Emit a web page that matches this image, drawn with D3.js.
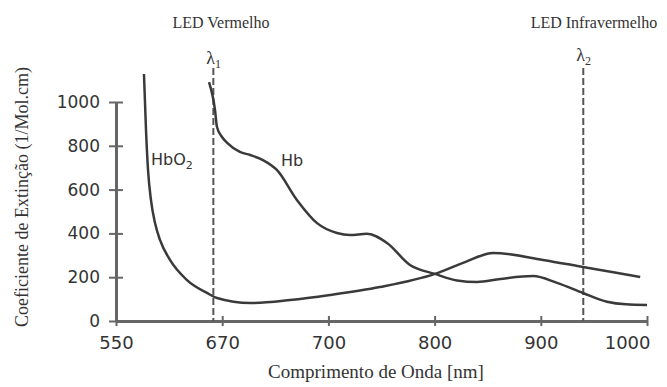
<!DOCTYPE html>
<html>
<head>
    <script src="https://d3js.org/d3.v7.min.js"></script>
    <style>
        body { margin: 0; background: #fff; }
    </style>
</head>
<body>
    <svg id="plot" width="667" height="387"></svg>
    <script>
        // tick labels (the x axis is drawn with evenly spaced ticks)
        const xTicks = [550, 670, 700, 800, 900, 1000];
        const yTicks = [0, 200, 400, 600, 800, 1000];

        // HbO2 curve
        const hbo2Wl  = [581.6, 583.9, 586.2, 589.5, 594.1, 599.7, 611, 630.2, 652.8, 664.1, 677.9, 689.2, 701.5, 748.4, 800.4, 828.6, 855, 902.1, 939.7, 993.6];
        const hbo2Val = [1128, 872, 689, 553, 447, 370, 279, 187, 128, 105, 82, 96, 119, 155, 215, 269, 311, 279, 247, 201];

        // Hb curve
        const hbWl  = [655.1, 661.9, 664.1, 669.8, 671.4, 675, 677.9, 681.5, 685.5, 691.1, 696.8, 708.1, 720.3, 736.3, 755.2, 776.8, 800.4, 821.1, 840, 862, 892.7, 915.3, 939.7, 962.3, 980, 1000];
        const hbVal = [1091, 963, 886, 840, 813, 772, 758, 735, 689, 553, 447, 402, 393, 398, 356, 256, 215, 185, 178, 192, 205, 174, 128, 88, 76, 73];

        // LED wavelengths
        const ledWl = [660, 940];
        const ledNames = ["LED Vermelho", "LED Infravermelho"];
        const ledSub = ["1", "2"];

        const svg = d3.select('svg#plot');
        const x0 = 116, x1 = 647;
        const step = (x1 - x0) / (xTicks.length - 1);

        const x = d3.scaleLinear()
            .domain(xTicks)
            .range(xTicks.map((d, i) => x0 + i * step));
        const y = d3.scaleLinear().domain([0, 1000]).range([321, 102]);

        const axisColor = "#666";

        // y axis
        const yAxis = svg.append("g")
            .attr("transform", `translate(${x0},0)`)
            .call(d3.axisLeft(y).tickValues(yTicks).tickFormat(d3.format("d"))
                .tickSize(7).tickSizeOuter(0).tickPadding(9));
        yAxis.select(".domain").attr("stroke", axisColor).attr("stroke-width", 3);
        yAxis.selectAll(".tick line").attr("x1", 7).attr("x2", -7)
            .attr("stroke", axisColor).attr("stroke-width", 2);
        yAxis.selectAll(".tick text")
            .style("font-family", "DejaVu Sans").style("font-size", "17px").attr("fill", "#333");

        // x axis
        const xAxis = svg.append("g")
            .attr("transform", `translate(0,${y(0)})`)
            .call(d3.axisBottom(x).tickValues(xTicks).tickFormat(d3.format("d"))
                .tickSize(4).tickSizeOuter(0).tickPadding(11));
        xAxis.select(".domain").attr("stroke", axisColor).attr("stroke-width", 3);
        xAxis.selectAll(".tick line").attr("y1", -5).attr("y2", 5)
            .attr("stroke", axisColor).attr("stroke-width", 2);
        xAxis.selectAll(".tick text")
            .style("font-family", "DejaVu Sans").style("font-size", "18px").attr("fill", "#333");
        xAxis.selectAll(".tick text").filter(d => d == 1000)
            .attr("text-anchor", "end").attr("dx", 3);

        // LED dashed lines
        ledWl.forEach((w, i) => {
            svg.append("line")
                .attr("x1", x(w)).attr("x2", x(w))
                .attr("y1", 68).attr("y2", y(0))
                .attr("stroke", "#555")
                .attr("stroke-width", 2)
                .attr("stroke-dasharray", "7,3");

            const lam = svg.append("text")
                .attr("x", x(w) - 7)
                .attr("y", i == 0 ? 64 : 61)
                .style("font-family", "Liberation Serif")
                .style("font-size", "18px")
                .attr("fill", "#333");
            lam.append("tspan").text("λ");
            lam.append("tspan").attr("dy", 4).style("font-size", "12px").text(ledSub[i]);

            svg.append("text")
                .attr("x", i == 0 ? 221 : 594)
                .attr("y", 28)
                .attr("text-anchor", "middle")
                .style("font-family", "Liberation Serif")
                .style("font-size", "16px")
                .attr("fill", "#333")
                .text(ledNames[i]);
        });

        // curves
        const line = d3.line()
            .x(d => x(d[0]))
            .y(d => y(d[1]))
            .curve(d3.curveMonotoneX);

        const hbo2 = hbo2Wl.map((w, i) => [w, hbo2Val[i]]);
        const hb = hbWl.map((w, i) => [w, hbVal[i]]);

        [hbo2, hb].forEach(data => {
            svg.append("path")
                .datum(data)
                .attr("d", line)
                .attr("fill", "none")
                .attr("stroke", "#3a3a3a")
                .attr("stroke-width", 2.5);
        });

        // curve labels
        const lbl = svg.append("text")
            .attr("x", 151).attr("y", 165)
            .style("font-family", "DejaVu Sans").style("font-size", "16px")
            .attr("fill", "#333");
        lbl.append("tspan").text("HbO");
        lbl.append("tspan").attr("dy", 4).style("font-size", "11px").text("2");

        svg.append("text")
            .attr("x", 281).attr("y", 166)
            .style("font-family", "DejaVu Sans").style("font-size", "16px")
            .attr("fill", "#333")
            .text("Hb");

        // axis titles
        svg.append("text")
            .attr("x", 376).attr("y", 378)
            .attr("text-anchor", "middle")
            .style("font-family", "Liberation Serif").style("font-size", "19px")
            .attr("fill", "#333")
            .text("Comprimento de Onda [nm]");

        svg.append("text")
            .attr("transform", "translate(28,197) rotate(-90)")
            .attr("text-anchor", "middle")
            .style("font-family", "Liberation Serif").style("font-size", "18px")
            .attr("fill", "#333")
            .text("Coeficiente de Extinção (1/Mol.cm)");
    </script>
</body>
</html>
